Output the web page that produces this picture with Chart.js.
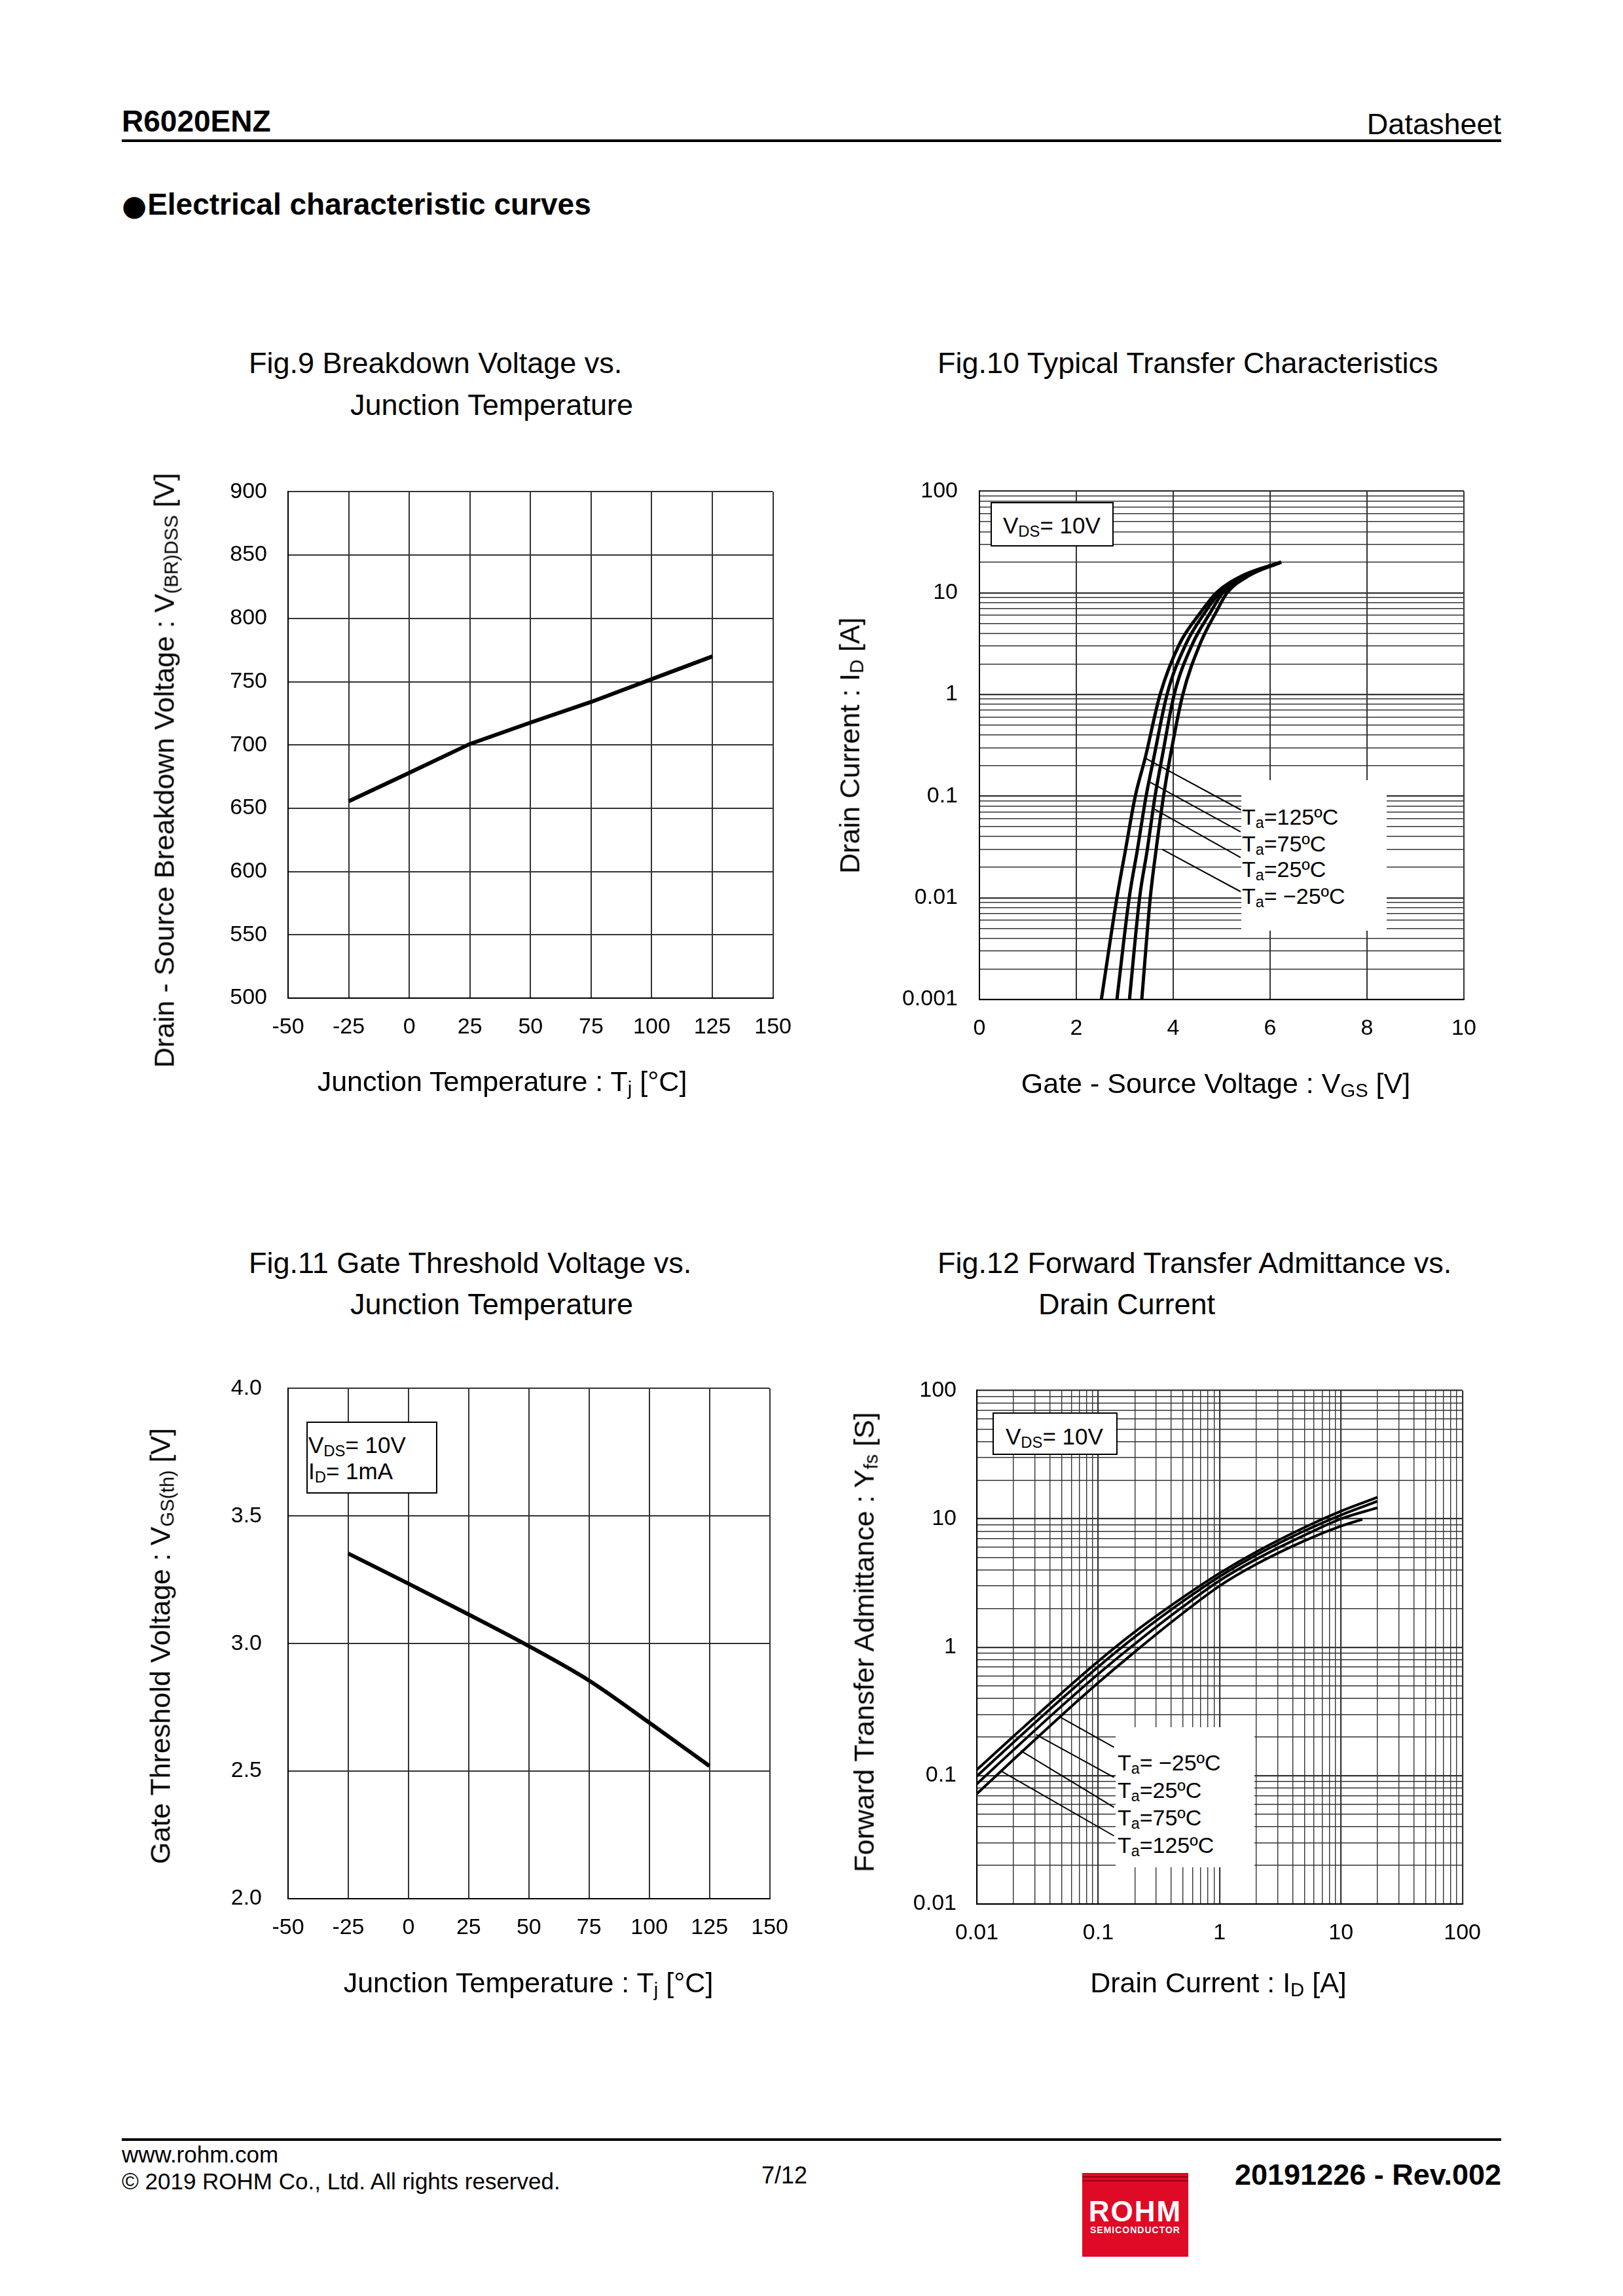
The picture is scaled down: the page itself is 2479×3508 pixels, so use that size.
<!DOCTYPE html>
<html><head><meta charset="utf-8">
<script src="https://cdn.jsdelivr.net/npm/chart.js@4.4.1/dist/chart.umd.min.js"></script>
<style>
html,body{margin:0;padding:0;background:#fff;}
body{width:2479px;height:3508px;position:relative;overflow:hidden;font-family:"Liberation Sans",Arial,sans-serif;color:#000;}
.t{position:absolute;white-space:nowrap;line-height:1;}
canvas{position:absolute;}
sub{font-size:0.68em;vertical-align:-0.22em;line-height:0;}
.rule{position:absolute;background:#000;}
.box{position:absolute;border:2px solid #000;background:#fff;box-sizing:border-box;}
.wbox{position:absolute;background:#fff;}
.logo{position:absolute;background:#df0a25;}
.bul{font-family:"DejaVu Sans",sans-serif;font-size:0.95em;vertical-align:-0.02em;margin-right:1px;}
</style></head><body>
<div class="rule" style="left:186px;top:213px;width:2107px;height:4px;"></div>
<div class="rule" style="left:186px;top:3267px;width:2107px;height:4px;"></div>
<div class="logo" style="left:1653px;top:3320px;width:162px;height:128px;"></div>
<div class="rule" style="left:1653px;top:3325px;width:162px;height:2px;background:#8a0514;"></div>
<div class="rule" style="left:1653px;top:3331px;width:162px;height:2px;background:#8a0514;"></div>

<canvas id="c9"></canvas>
<canvas id="c10"></canvas>
<canvas id="c11"></canvas>
<canvas id="c12"></canvas>

<div class="box" style="left:1513px;top:767px;width:188px;height:68px;"></div>
<div class="box" style="left:468px;top:2172px;width:200px;height:110px;"></div>
<div class="box" style="left:1516px;top:2158px;width:191px;height:65px;"></div>
<div class="wbox" style="left:1896px;top:1192px;width:222px;height:230px;"></div>
<div class="wbox" style="left:1704px;top:2639px;width:212px;height:214px;"></div>

<script>
// ---------------- DATA ----------------
// Fig.9 Breakdown voltage vs junction temperature
const fig9Temp = [-25, 0, 25, 50, 75, 100, 125];
const fig9Vbr = [655.5, 678, 700.8, 717.7, 734, 752, 770];
const fig9XTicks = [-50, -25, 0, 25, 50, 75, 100, 125, 150];
const fig9YTicks = [500, 550, 600, 650, 700, 750, 800, 850, 900];

// Fig.10 Typical transfer characteristics (ID vs VGS)
const fig10Id = [0.001, 0.01, 0.03, 0.1, 0.234, 1, 3.15, 6.52, 10, 14.7, 20];
const fig10Vgs125 = [2.517, 2.838, 3.017, 3.217, 3.418, 3.730, 4.131, 4.577, 4.889, 5.424, 6.226];
const fig10Vgs75 = [2.838, 3.092, 3.262, 3.440, 3.596, 3.872, 4.265, 4.666, 4.956, 5.469, 6.226];
const fig10Vgs25 = [3.097, 3.306, 3.466, 3.625, 3.765, 4.020, 4.399, 4.778, 5.023, 5.513, 6.226];
const fig10VgsM25 = [3.351, 3.526, 3.648, 3.800, 3.930, 4.198, 4.555, 4.889, 5.112, 5.558, 6.226];
const fig10XTicks = [0, 2, 4, 6, 8, 10];
const fig10YTicks = [0.001, 0.01, 0.1, 1, 10, 100];
const fig10YLabels = ['0.001', '0.01', '0.1', '1', '10', '100'];
// leader lines [VGS start, ID start, VGS end, ID end]
const fig10Leaders = [[3.43, 0.235, 5.40, 0.0731], [3.53, 0.1365, 5.39, 0.0446], [3.62, 0.0741, 5.39, 0.0249], [3.77, 0.030, 5.39, 0.0115]];

// Fig.11 Gate threshold voltage vs junction temperature
const fig11Temp = [-25, 0, 25, 50, 75, 100, 125];
const fig11Vth = [3.353, 3.235, 3.114, 2.99, 2.855, 2.69, 2.52];
const fig11XTicks = [-50, -25, 0, 25, 50, 75, 100, 125, 150];
const fig11YTicks = [2.0, 2.5, 3.0, 3.5, 4.0];

// Fig.12 Forward transfer admittance vs drain current
const fig12Id = [0.01, 0.02, 0.05, 0.1, 0.2, 0.5, 1, 2, 5, 10, 20];
const fig12YfsM25 = [0.111, 0.202, 0.44, 0.777, 1.316, 2.45, 3.77, 5.52, 8.57, 11.47, 14.7];
const fig12Yfs25 = [0.099, 0.181, 0.396, 0.703, 1.20, 2.28, 3.55, 5.21, 8.05, 10.7, 13.7];
const fig12Yfs75 = [0.086, 0.158, 0.348, 0.618, 1.06, 2.07, 3.30, 4.84, 7.45, 10.0, 12.2];
const fig12Id125 = [0.01, 0.02, 0.05, 0.1, 0.2, 0.5, 1, 2, 5, 10, 15];
const fig12Yfs125 = [0.072, 0.133, 0.295, 0.528, 0.919, 1.845, 3.0, 4.42, 6.74, 8.77, 9.9];
const fig12XTicks = [0.01, 0.1, 1, 10, 100];
const fig12XLabels = ['0.01', '0.1', '1', '10', '100'];
const fig12YTicks = [0.01, 0.1, 1, 10, 100];
const fig12YLabels = ['0.01', '0.1', '1', '10', '100'];
const fig12Leaders = [[0.049, 0.284, 0.135, 0.166], [0.0308, 0.208, 0.135, 0.0969], [0.0230, 0.156, 0.135, 0.0566], [0.0160, 0.108, 0.135, 0.0339]];

// ---------------- TEXT ----------------
const FONT = '"Liberation Sans", Arial, sans-serif';
function txt(html, x, base, size, opt) {
  opt = opt || {};
  const d = document.createElement('div');
  d.className = 't';
  d.innerHTML = html;
  d.style.fontSize = size + 'px';
  d.style.top = (base - 0.8465 * size) + 'px';
  if (opt.bold) d.style.fontWeight = 'bold';
  if (opt.color) d.style.color = opt.color;
  if (opt.ls) d.style.letterSpacing = opt.ls + 'px';
  if (opt.align === 'right') { d.style.right = (2479 - x) + 'px'; }
  else if (opt.align === 'center') { d.style.left = x + 'px'; d.style.transform = 'translateX(-50%)'; }
  else d.style.left = x + 'px';
  document.body.appendChild(d);
}
function ctxt(html, cx, cy, size, rot) {
  const d = document.createElement('div');
  d.className = 't';
  d.innerHTML = html;
  d.style.fontSize = size + 'px';
  d.style.left = cx + 'px';
  d.style.top = cy + 'px';
  d.style.transform = 'translate(-50%,-50%)' + (rot ? ' rotate(-90deg)' : '');
  document.body.appendChild(d);
}
// header / footer
txt('R6020ENZ', 186, 201, 46, {bold: true});
txt('Datasheet', 2293, 205, 45, {align: 'right'});
txt('<span class="bul">\u25CF</span>Electrical characteristic curves', 186, 328, 46, {bold: true});
txt('www.rohm.com', 186, 3304, 35);
txt('\u00A9 2019 ROHM Co., Ltd. All rights reserved.', 186, 3345, 35);
txt('7/12', 1198, 3336, 36, {align: 'center'});
txt('20191226 - Rev.002', 2293, 3338, 45, {bold: true, align: 'right'});
txt('ROHM', 1734, 3394, 44, {bold: true, color: '#fff', align: 'center', ls: 2});
txt('SEMICONDUCTOR', 1734, 3412, 14, {bold: true, color: '#fff', align: 'center', ls: 1});

// chart titles
txt('Fig.9 Breakdown Voltage vs.', 380, 570, 45);
txt('Junction Temperature', 535, 634, 45);
txt('Fig.10 Typical Transfer Characteristics', 1432, 570, 45);
txt('Fig.11 Gate Threshold Voltage vs.', 380, 1945, 45);
txt('Junction Temperature', 535, 2008, 45);
txt('Fig.12 Forward Transfer Admittance vs.', 1432, 1945, 45);
txt('Drain Current', 1586, 2008, 45);

// axis titles
ctxt('Junction Temperature : T<sub>j</sub> [\u00B0C]', 767, 1652, 43);
ctxt('Drain - Source Breakdown Voltage : V<sub>(BR)DSS</sub> [V]', 251, 1177, 43, true);
ctxt('Gate - Source Voltage : V<sub>GS</sub> [V]', 1857, 1655, 43);
ctxt('Drain Current : I<sub>D</sub> [A]', 1298, 1139, 43, true);
ctxt('Junction Temperature : T<sub>j</sub> [\u00B0C]', 807, 3029, 43);
ctxt('Gate Threshold Voltage : V<sub>GS(th)</sub> [V]', 245, 2515, 43, true);
ctxt('Drain Current : I<sub>D</sub> [A]', 1861, 3029, 43);
ctxt('Forward Transfer Admittance : Y<sub>fs</sub> [S]', 1320, 2509, 43, true);

// boxes text
txt('V<sub>DS</sub>= 10V', 1532, 815, 35);
txt('V<sub>DS</sub>= 10V', 471, 2220, 35);
txt('I<sub>D</sub>= 1mA', 471, 2260, 35);
txt('V<sub>DS</sub>= 10V', 1536, 2207, 35);
// legends
txt('T<sub>a</sub>=125\u00BAC', 1897, 1260, 34);
txt('T<sub>a</sub>=75\u00BAC', 1897, 1301, 34);
txt('T<sub>a</sub>=25\u00BAC', 1897, 1340, 34);
txt('T<sub>a</sub>= \u221225\u00BAC', 1897, 1381, 34);
txt('T<sub>a</sub>= \u221225\u00BAC', 1707, 2705, 34);
txt('T<sub>a</sub>=25\u00BAC', 1707, 2747, 34);
txt('T<sub>a</sub>=75\u00BAC', 1707, 2789, 34);
txt('T<sub>a</sub>=125\u00BAC', 1707, 2831, 34);

// ---------------- CHARTS ----------------
function pts(xs, ys) { return xs.map((x, i) => ({x: x, y: ys[i]})); }
function logGrid(min, max) {
  const out = [];
  const e0 = Math.round(Math.log10(min)), e1 = Math.round(Math.log10(max));
  for (let e = e0; e < e1; e++) {
    for (let k = 1; k <= 9; k++) out.push({value: Number((k * Math.pow(10, e)).toPrecision(6))});
  }
  out.push({value: max});
  return out;
}
function isIn(v, arr) { return arr.findIndex(a => Math.abs(a - v) <= Math.abs(a) * 1e-6); }
function leaderPlugin(list) {
  return {
    id: 'leaders',
    afterDatasetsDraw(chart) {
      const c = chart.ctx, sx = chart.scales.x, sy = chart.scales.y;
      c.save();
      c.strokeStyle = '#000';
      c.lineWidth = 2;
      list.forEach(l => {
        c.beginPath();
        c.moveTo(sx.getPixelForValue(l[0]), sy.getPixelForValue(l[1]));
        c.lineTo(sx.getPixelForValue(l[2]), sy.getPixelForValue(l[3]));
        c.stroke();
      });
      c.restore();
    }
  };
}
function line(data, w, smooth) {
  return {data: data, borderColor: '#000', backgroundColor: '#000', borderWidth: w, pointRadius: 0,
          showLine: true, fill: false, tension: 0, cubicInterpolationMode: smooth ? 'monotone' : 'default'};
}
function axis(type, min, max, tickList, labelFn, gridFn, pad, isX) {
  const a = {
    type: type, min: min, max: max,
    grid: {color: '#333', lineWidth: gridFn, drawTicks: false},
    border: {display: true, color: '#000', width: 2},
    ticks: {autoSkip: false, maxRotation: 0, minRotation: 0, padding: pad, color: '#000',
            font: {family: FONT, size: 34}, callback: labelFn},
    afterBuildTicks: (s) => { s.ticks = tickList.map(v => (typeof v === 'object' ? v : {value: v})); }
  };
  if (isX) a.afterFit = (s) => { s.height = 120; };
  else a.afterFit = (s) => { s.width = 200; };
  return a;
}
function makeChart(id, area, datasets, xAxis, yAxis, plugins) {
  const cv = document.getElementById(id);
  const W = (area.r - area.l) + 250, H = (area.b - area.t) + 160;
  cv.width = W; cv.height = H;
  cv.style.width = W + 'px'; cv.style.height = H + 'px';
  cv.style.left = (area.l - 200) + 'px';
  cv.style.top = (area.t - 40) + 'px';
  const ch = new Chart(cv.getContext('2d'), {
    type: 'scatter',
    data: {datasets: datasets},
    options: {
      responsive: false, maintainAspectRatio: false, animation: false, devicePixelRatio: 1,
      layout: {autoPadding: false, padding: {left: 0, top: 40, right: 50, bottom: 0}},
      plugins: {legend: {display: false}, tooltip: {enabled: false}},
      scales: {x: xAxis, y: yAxis}
    },
    plugins: plugins || []
  });
  // align the library's plot area with the reference position
  let ca = ch.chartArea;
  const dw = Math.round((area.r - area.l) - (ca.right - ca.left));
  const dh = Math.round((area.b - area.t) - (ca.bottom - ca.top));
  if (dw !== 0 || dh !== 0) {
    ch.resize(W + dw, H + dh);
    ca = ch.chartArea;
  }
  cv.style.left = (area.l - ca.left) + 'px';
  cv.style.top = (area.t - ca.top) + 'px';
  return ch;
}

// Fig.9
makeChart('c9', {l: 440, t: 751, r: 1181, b: 1525},
  [line(pts(fig9Temp, fig9Vbr), 6, false)],
  axis('linear', -50, 150, fig9XTicks, v => String(v), 2, 24, true),
  axis('linear', 500, 900, fig9YTicks, v => String(v), 2, 32, false));

// Fig.10
const logW = (ctx) => (ctx.tick && isIn(ctx.tick.value, [0.001, 0.01, 0.1, 1, 10, 100]) >= 0 ? 2.2 : 1.4);
makeChart('c10', {l: 1496, t: 750, r: 2236, b: 1527},
  [line(pts(fig10Vgs125, fig10Id), 5, true), line(pts(fig10Vgs75, fig10Id), 5, true),
   line(pts(fig10Vgs25, fig10Id), 5, true), line(pts(fig10VgsM25, fig10Id), 5, true)],
  axis('linear', 0, 10, fig10XTicks, v => String(v), 2, 24, true),
  axis('logarithmic', 0.001, 100, logGrid(0.001, 100), v => { const i = isIn(v, fig10YTicks); return i >= 0 ? fig10YLabels[i] : ''; }, logW, 33, false),
  [leaderPlugin(fig10Leaders)]);

// Fig.11
makeChart('c11', {l: 440, t: 2121, r: 1176, b: 2901},
  [line(pts(fig11Temp, fig11Vth), 6, true)],
  axis('linear', -50, 150, fig11XTicks, v => String(v), 2, 24, true),
  axis('linear', 2, 4, fig11YTicks, v => Number(v).toFixed(1), 2, 40, false));

// Fig.12
makeChart('c12', {l: 1492, t: 2124, r: 2234, b: 2909},
  [line(pts(fig12Id, fig12YfsM25), 4, true), line(pts(fig12Id, fig12Yfs25), 4, true),
   line(pts(fig12Id, fig12Yfs75), 4, true), line(pts(fig12Id125, fig12Yfs125), 4, true)],
  axis('logarithmic', 0.01, 100, logGrid(0.01, 100), v => { const i = isIn(v, fig12XTicks); return i >= 0 ? fig12XLabels[i] : ''; }, logW, 24, true),
  axis('logarithmic', 0.01, 100, logGrid(0.01, 100), v => { const i = isIn(v, fig12YTicks); return i >= 0 ? fig12YLabels[i] : ''; }, logW, 31, false),
  [leaderPlugin(fig12Leaders)]);
</script>
</body></html>
